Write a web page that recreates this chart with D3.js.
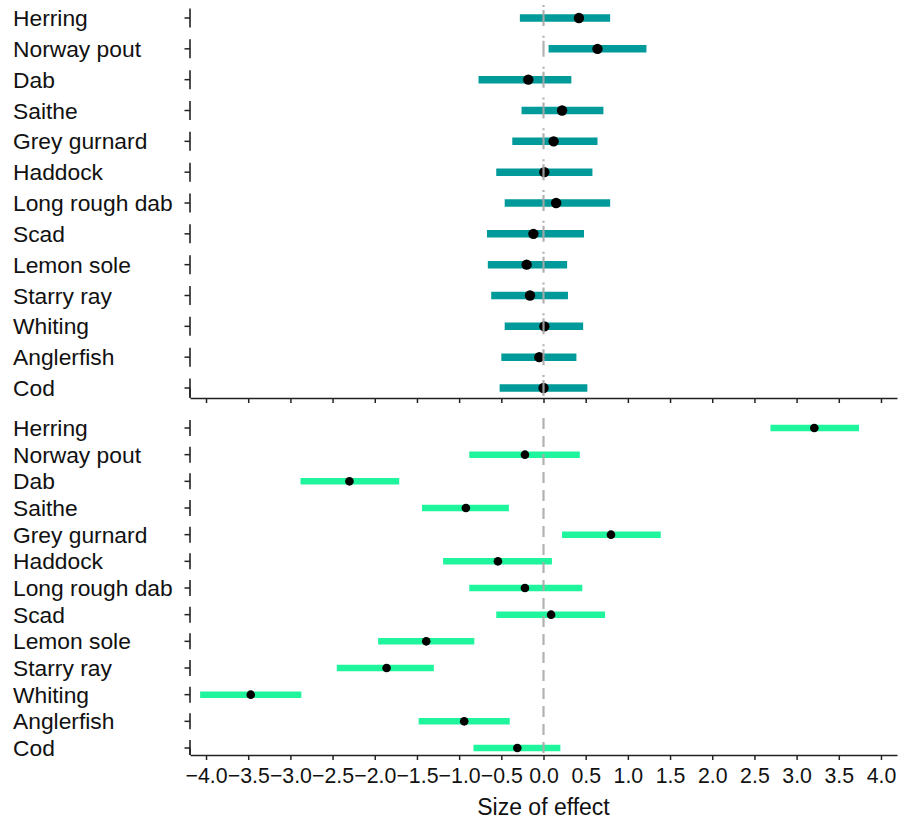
<!DOCTYPE html>
<html>
<head>
<meta charset="utf-8">
<script src="https://cdn.jsdelivr.net/npm/d3@7"></script>
<style>
  html, body { margin: 0; padding: 0; background: #fff; }
  svg { display: block; font-family: "Liberation Sans", Arial, sans-serif; }
</style>
</head>
<body>
<svg id="chart" width="908" height="822"></svg>
<script>
const species = ["Herring","Norway pout","Dab","Saithe","Grey gurnard","Haddock","Long rough dab","Scad","Lemon sole","Starry ray","Whiting","Anglerfish","Cod"];

// Top panel (teal)
const topEst = [0.42, 0.64, -0.18, 0.22, 0.12, 0.01, 0.15, -0.12, -0.20, -0.16, 0.01, -0.05, 0.00];
const topLo  = [-0.28, 0.06, -0.77, -0.26, -0.37, -0.56, -0.46, -0.67, -0.66, -0.62, -0.46, -0.50, -0.52];
const topHi  = [0.79, 1.22, 0.33, 0.71, 0.64, 0.58, 0.79, 0.48, 0.28, 0.29, 0.47, 0.39, 0.52];

// Bottom panel (green)
const botEst = [3.21, -0.22, -2.30, -0.92, 0.80, -0.54, -0.22, 0.09, -1.39, -1.86, -3.47, -0.94, -0.31];
const botLo  = [2.69, -0.88, -2.88, -1.44, 0.22, -1.19, -0.88, -0.56, -1.96, -2.45, -4.07, -1.48, -0.83];
const botHi  = [3.74, 0.43, -1.71, -0.41, 1.39, 0.10, 0.46, 0.73, -0.82, -1.30, -2.87, -0.40, 0.20];

const xTicks = [-4.0,-3.5,-3.0,-2.5,-2.0,-1.5,-1.0,-0.5,0.0,0.5,1.0,1.5,2.0,2.5,3.0,3.5,4.0];
const xTitle = "Size of effect";

const svg = d3.select("#chart");
const x = d3.scaleLinear().domain([-4.19, 4.19]).range([190, 897]);

const panels = [
  { est: topEst, lo: topLo, hi: topHi, color: "#009a9a", range: [18, 388], axisY: 398, top: 5,
    seg: 9.5, bar: 7.5, r: 5.2, dash: "2,3,16,9.83", labels: false },
  { est: botEst, lo: botLo, hi: botHi, color: "#1ef59c", range: [428, 748], axisY: 755, top: 418,
    seg: 8, bar: 6.5, r: 4.3, dash: "11,7", labels: true }
];

panels.forEach(p => {
  const y = d3.scalePoint().domain(species).range(p.range);
  const rows = species.map((s, i) => ({ s, est: p.est[i], lo: p.lo[i], hi: p.hi[i] }));
  const g = svg.append("g");

  // category labels
  g.selectAll("text.cat").data(rows).join("text")
    .attr("class", "cat")
    .attr("x", 13).attr("y", d => y(d.s) + 8)
    .attr("font-size", 22.8).attr("fill", "#111")
    .text(d => d.s);

  // y axis segments + ticks
  g.selectAll("line.yseg").data(rows).join("line")
    .attr("x1", x.range()[0]).attr("x2", x.range()[0])
    .attr("y1", d => y(d.s) - p.seg)
    .attr("y2", d => Math.min(y(d.s) + p.seg, p.axisY))
    .attr("stroke", "#222").attr("stroke-width", 1.6);
  g.selectAll("line.ytick").data(rows).join("line")
    .attr("x1", x.range()[0] - 5.5).attr("x2", x.range()[0])
    .attr("y1", d => y(d.s)).attr("y2", d => y(d.s))
    .attr("stroke", "#222").attr("stroke-width", 1.5);
  g.append("line")
    .attr("x1", x.range()[0]).attr("x2", x.range()[0])
    .attr("y1", y(species[species.length - 1])).attr("y2", p.axisY)
    .attr("stroke", "#222").attr("stroke-width", 1.6);

  // CI bars
  g.selectAll("line.ci").data(rows).join("line")
    .attr("x1", d => x(d.lo)).attr("x2", d => x(d.hi))
    .attr("y1", d => y(d.s)).attr("y2", d => y(d.s))
    .attr("stroke", p.color).attr("stroke-width", p.bar);

  // points
  g.selectAll("circle").data(rows).join("circle")
    .attr("cx", d => x(d.est)).attr("cy", d => y(d.s)).attr("r", p.r)
    .attr("fill", "#000");

  // zero dashed line
  g.append("line")
    .attr("x1", x(0)).attr("x2", x(0))
    .attr("y1", p.top).attr("y2", p.axisY)
    .attr("stroke", "#aaa").attr("stroke-width", 2.2)
    .attr("stroke-dasharray", p.dash).attr("opacity", 0.9);

  // x axis
  const ax = d3.axisBottom(x).tickValues(xTicks).tickSize(5).tickSizeOuter(0)
    .tickFormat(p.labels ? d3.format(".1f") : () => "");
  const axg = g.append("g").attr("transform", `translate(0,${p.axisY})`).call(ax);
  axg.select(".domain").attr("stroke", "#222").attr("stroke-width", 1.6);
  axg.selectAll(".tick line").attr("stroke", "#222").attr("stroke-width", 1.5);
  axg.selectAll(".tick text").attr("font-size", 21.3).attr("fill", "#111")
    .attr("font-family", "Liberation Sans, Arial, sans-serif").attr("dy", "0.95em");
});

svg.append("text")
  .attr("x", x(0)).attr("y", 815)
  .attr("text-anchor", "middle").attr("font-size", 23).attr("fill", "#111")
  .text(xTitle);
</script>
</body>
</html>
